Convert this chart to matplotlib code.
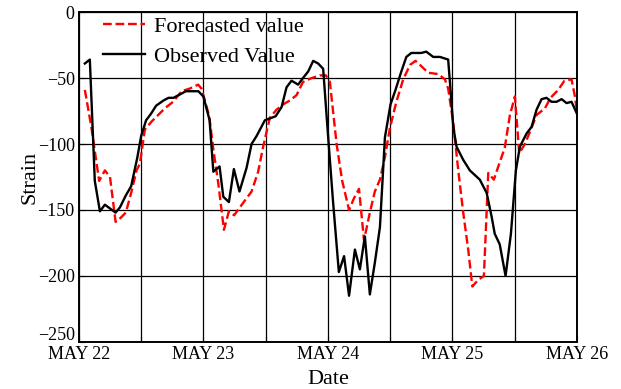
import matplotlib.pyplot as plt
from matplotlib.transforms import ScaledTranslation

plt.rcParams['font.family'] = ['Liberation Serif', 'DejaVu Serif']

# days after May 22
obs_x = [0.048, 0.088, 0.128, 0.169, 0.209, 0.295, 0.33, 0.377, 0.42, 0.47, 0.50, 0.54,
         0.58, 0.62, 0.68, 0.72, 0.76, 0.80, 0.86, 0.96, 1.0, 1.05, 1.08, 1.105, 1.13,
         1.16, 1.205, 1.245, 1.29, 1.347, 1.387, 1.427, 1.494, 1.58, 1.628, 1.668, 1.708,
         1.761, 1.80, 1.842, 1.882, 1.922, 1.962, 2.0, 2.04, 2.088, 2.13, 2.17, 2.217,
         2.257, 2.297, 2.337, 2.377, 2.418, 2.458, 2.503, 2.543, 2.59, 2.63, 2.67, 2.75,
         2.79, 2.846, 2.90, 2.966, 2.985, 3.007, 3.033, 3.087, 3.14, 3.22, 3.275, 3.315,
         3.34, 3.38, 3.427, 3.47, 3.51, 3.542, 3.596, 3.636, 3.676, 3.716, 3.756, 3.796,
         3.837, 3.877, 3.917, 3.957, 4.0]
obs_y = [-39, -36, -128, -151, -146, -152, -148, -139, -132, -110, -94, -82,
         -77, -71, -67, -65, -65, -63, -60, -60, -64, -82, -121, -119, -117,
         -140, -144, -119, -136, -118, -100, -94, -82, -79, -72, -57, -52,
         -55, -50, -45, -37, -39, -43, -92, -142, -197, -185, -215, -180,
         -195, -170, -214, -190, -163, -95, -70, -59, -45, -34, -31, -31,
         -30, -34, -34, -36, -59, -87, -102, -112, -120, -127, -137, -155,
         -168, -176, -200, -168, -120, -102, -92, -87, -74, -66, -65, -68,
         -68, -66, -69, -68, -77]

pred_x = [0.048, 0.10, 0.163, 0.209, 0.25, 0.295, 0.335, 0.377, 0.423, 0.463, 0.49, 0.53,
          0.584, 0.637, 0.69, 0.757, 0.825, 0.89, 0.958, 0.985, 1.047, 1.08, 1.12, 1.165,
          1.205, 1.247, 1.293, 1.387, 1.44, 1.48, 1.534, 1.588, 1.64, 1.695, 1.748, 1.80,
          1.87, 1.936, 1.984, 2.016, 2.07, 2.115, 2.17, 2.21, 2.25, 2.29, 2.337, 2.377,
          2.418, 2.458, 2.498, 2.55, 2.605, 2.66, 2.704, 2.75, 2.806, 2.886, 2.94, 2.966,
          3.007, 3.047, 3.087, 3.127, 3.16, 3.207, 3.253, 3.288, 3.333, 3.376, 3.42, 3.462,
          3.502, 3.537, 3.582, 3.622, 3.676, 3.743, 3.788, 3.85, 3.90, 3.957, 3.984, 4.0]
pred_y = [-59, -87, -128, -120, -125, -159, -156, -152, -136, -120, -115, -89,
          -83, -78, -73, -68, -60, -58, -55, -58, -79, -104, -130, -165,
          -151, -154, -148, -136, -121, -102, -80, -74, -70, -67, -63, -53,
          -50, -48, -48, -53, -100, -128, -150, -141, -134, -173, -152, -136,
          -127, -110, -88, -68, -51, -40, -37, -41, -46, -47, -51, -58,
          -84, -120, -152, -180, -208, -203, -200, -122, -127, -115, -103, -78,
          -64, -107, -100, -91, -78, -73, -65, -59, -52, -51, -64, -75]

tick_pos = [0, 0.5, 1, 1.5, 2, 2.5, 3, 3.5, 4]
tick_labels = ['MAY 22', '', 'MAY 23', '', 'MAY 24', '', 'MAY 25', '', 'MAY 26']

fig = plt.figure(figsize=(6.21, 3.89), dpi=100)
ax = fig.add_axes([0.127, 0.121, 0.802, 0.848])

ax.plot(pred_x, pred_y, color='red', linestyle='--', linewidth=1.7, label='Forecasted value')
ax.plot(obs_x, obs_y, color='black', linewidth=1.7, label='Observed Value')

ax.set_xlim(0, 4)
ax.set_ylim(-250, 0)
ax.set_xticks(tick_pos)
ax.set_xticklabels(tick_labels, fontsize=13)
ax.set_yticks([-250, -200, -150, -100, -50, 0])
ax.tick_params(axis='y', labelsize=13)
ax.tick_params(direction='in', length=4, pad=3)
ax.grid(True, color='black', linewidth=0.9)

# the -250 label sits a bit higher in the original
lab = ax.yaxis.get_major_ticks()[0].label1
lab.set_transform(lab.get_transform() + ScaledTranslation(0, 6 / 72, fig.dpi_scale_trans))

for s in ax.spines.values():
    s.set_linewidth(1.4)

ax.set_xlabel('Date', fontsize=16)
ax.set_ylabel('Strain', fontsize=16)
ax.xaxis.set_label_coords(0.5, -0.085)
ax.yaxis.set_label_coords(-0.08, 0.5)

ax.legend(loc='upper left', bbox_to_anchor=(0.03, 1.015), frameon=False, fontsize=16,
          handlelength=1.9, handletextpad=0.4, labelspacing=0.45, borderaxespad=0)

fig.savefig('out.png', dpi=100)
